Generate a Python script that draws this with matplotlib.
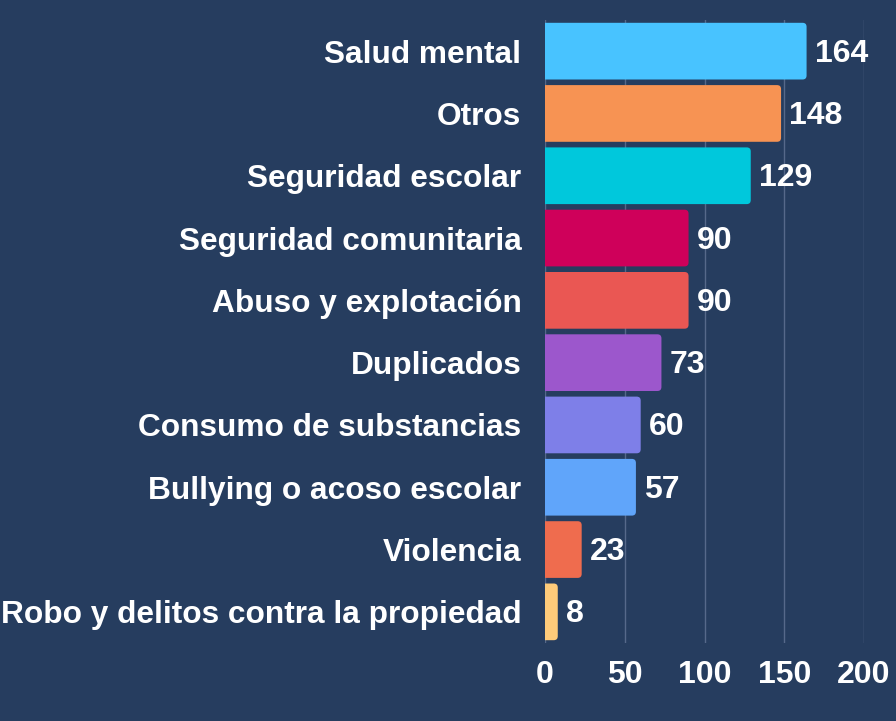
import matplotlib
matplotlib.use("Agg")
import matplotlib.pyplot as plt
from matplotlib.patches import FancyBboxPatch

categories = ["Salud mental", "Otros", "Seguridad escolar", "Seguridad comunitaria",
              "Abuso y explotación", "Duplicados", "Consumo de substancias",
              "Bullying o acoso escolar", "Violencia", "Robo y delitos contra la propiedad"]
values = [164, 148, 129, 90, 90, 73, 60, 57, 23, 8]
colors = ["#48C3FF", "#F79353", "#00C8DC", "#CF005A", "#EA5753",
          "#9C57CC", "#7E7FE8", "#60A5FA", "#EF6C4E", "#FECB7A"]
xticks = [0, 50, 100, 150, 200]

BG = "#263D5F"
W, H = 896, 721
plt.rcParams["font.family"] = ["Liberation Sans", "DejaVu Sans"]

fig = plt.figure(figsize=(W / 100, H / 100), dpi=100, facecolor=BG)
left, right, top, bottom = 545, 864, 20, 643
ax = fig.add_axes([left / W, 1 - bottom / H, (right - left) / W, (bottom - top) / H])
ax.set_facecolor(BG)

ypos = list(range(len(categories)))
ax.set_xlim(0, 200)
ax.set_ylim(len(categories) - 0.5, -0.5)

# rounded right corners; left corners hidden behind the axes clip
px_x = 200 / (right - left)
px_y = len(categories) / (bottom - top)
r = 4 * px_x
for y, v, c in zip(ypos, values, colors):
    h = 0.91
    p = FancyBboxPatch((-r * 2, y - h / 2), v + r * 2, h,
                       boxstyle=f"round,pad=0,rounding_size={r}",
                       mutation_aspect=px_y / px_x, fc=c, ec="none", zorder=3)
    ax.add_patch(p)
    ax.text(v + 5, y + 0.04, str(v), color="white", fontsize=23, fontweight="bold",
            va="center", ha="left", zorder=4)

ax.set_xticks(xticks)
ax.set_xticklabels([str(t) for t in xticks])
ax.set_yticks(ypos)
ax.set_yticklabels(categories)
ax.tick_params(axis="both", length=0, colors="white")
ax.tick_params(axis="y", pad=17, labelsize=22.8)
ax.tick_params(axis="x", pad=12, labelsize=23)
for lab in ax.get_xticklabels() + ax.get_yticklabels():
    lab.set_fontweight("bold")
ax.grid(axis="x", color="#56698A", linewidth=1, zorder=0)
for s in ax.spines.values():
    s.set_visible(False)

fig.savefig("out.png", dpi=100, facecolor=BG)
